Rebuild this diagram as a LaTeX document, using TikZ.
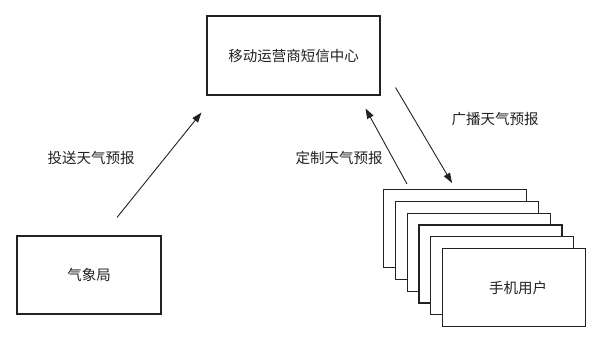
\documentclass[tikz,border=0pt]{standalone}
\usepackage{fontspec}
\newfontfamily\cjk{Noto Sans CJK SC}
\usetikzlibrary{arrows.meta,calc}
\definecolor{cInk}{HTML}{222222}
\tikzset{
  box/.style={draw=cInk,line width=1.1pt,fill=white,inner sep=0pt,
              font=\cjk\fontsize{14.5}{16}\selectfont,text=cInk},
  flow/.style={-{Triangle[length=10pt,width=7pt]},line width=0.9pt,cInk},
  lbl/.style={font=\cjk\fontsize{14.5}{16}\selectfont,text=cInk},
}

\begin{document}
\begin{tikzpicture}[x=1pt,y=-1pt]
  \useasboundingbox (0,0) rectangle (607,337);
  \node[box,minimum width=173pt,minimum height=79pt] (sms) at (293.5,55.5){移动运营商短信中心};
  \node[box,minimum width=144pt,minimum height=78pt] (qx) at (89,275){气象局};
  \foreach \i in {0,...,5}{
    \node[box,anchor=north west,minimum width=143pt,minimum height=78pt]
      (u\i) at ({383+11.8*\i},{189+11.8*\i}){};
  }
  \node[lbl] at (u5){\hspace*{8pt}手机用户};
  % arrow ends
  \coordinate (a1) at ($(qx.north)+(28,-18)$);
  \coordinate (b1) at ($(sms.south west)+(-5,17)$);
  \coordinate (a2) at ($(u0.north west)+(24,-5)$);
  \coordinate (b2) at ($(sms.south east)+(-15,13)$);
  \coordinate (a3) at ($(sms.south east)+(15,-8)$);
  \coordinate (b3) at ($(u0.north west)+(69,-6)$);
  \draw[flow] (a1) -- (b1);
  \draw[flow] (a2) -- (b2);
  \draw[flow] (a3) -- (b3);
  \node[lbl] (l1) at (91,158){投送天气预报};
  \node[lbl] (l2) at (339,158){定制天气预报};
  \node[lbl] (l3) at (495,119){广播天气预报};
\end{tikzpicture}
\end{document}
